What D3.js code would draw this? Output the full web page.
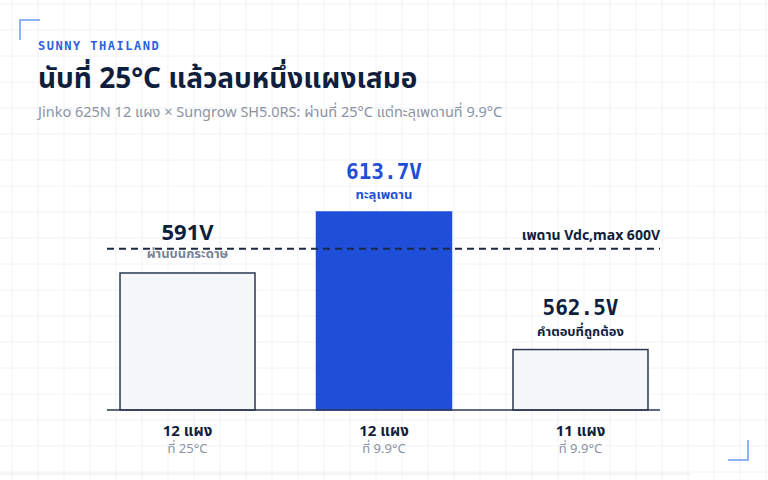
<!DOCTYPE html><html><head><meta charset="utf-8"><script src="https://cdn.jsdelivr.net/npm/d3@7"></script>
<style>body{margin:0;background:#fff}svg{display:block}</style></head><body><svg id="c" width="768" height="480"></svg>
<script>
const categories=["12 แผง","12 แผง","11 แผง"];
const subLabels=["ที่ 25°C","ที่ 9.9°C","ที่ 9.9°C"];
const values=[591,613.7,562.5];
const valueLabels=["591V","613.7V","562.5V"];
const noteLabels=["ผ่านบนกระดาษ","ทะลุเพดาน","คำตอบที่ถูกต้อง"];
const limit=600;
const limitLabel="เพดาน Vdc,max 600V";
const F="'Noto Sans','Noto Sans Thai',sans-serif";
const svg=d3.select("#c");
const g0=svg.append("g");
for(let x=12;x<768;x+=26)g0.append("line").attr("x1",x).attr("x2",x).attr("y1",0).attr("y2",480).attr("stroke","#f1f2f5");
for(let y=4;y<480;y+=26)g0.append("line").attr("x1",0).attr("x2",768).attr("y1",y).attr("y2",y).attr("stroke","#f1f2f5");
svg.append("path").attr("d","M20,40V20H40").attr("fill","none").attr("stroke","#6f9cf5").attr("stroke-width",1.5);
svg.append("path").attr("d","M728,460H748V440").attr("fill","none").attr("stroke","#6f9cf5").attr("stroke-width",1.5);
svg.append("line").attr("x1",0).attr("x2",690).attr("y1",474).attr("y2",474).attr("stroke","#e6e8ec");
svg.append("text").attr("x",38).attr("y",50).text("SUNNY THAILAND").attr("font-family","'DejaVu Sans Mono',monospace").attr("font-size",12).attr("font-weight","bold").attr("letter-spacing",1.5).attr("fill","#2f5fe0");
svg.append("text").attr("x",38).attr("y",88).text("นับที่ 25°C แล้วลบหนึ่งแผงเสมอ").attr("font-family",F).attr("font-size",28).attr("font-weight","bold").attr("fill","#0f1e3d");
svg.append("text").attr("x",38).attr("y",117).text("Jinko 625N 12 แผง × Sungrow SH5.0RS: ผ่านที่ 25°C แต่ทะลุเพดานที่ 9.9°C").attr("font-family",F).attr("font-size",14.5).attr("fill","#8b93a3");
const x=d3.scaleBand().domain(d3.range(3)).range([92.5,675.5]).paddingInner(0.313).paddingOuter(0.14);
const y=d3.scaleLinear().domain([540,613.7]).range([410,212]);
values.forEach((v,i)=>{
  const hot=i===1;
  svg.append("rect").attr("x",x(i)).attr("y",y(v)).attr("width",x.bandwidth()).attr("height",410-y(v))
   .attr("fill",hot?"#1f4fd8":"#f6f7f9").attr("stroke",hot?"#1f4fd8":"#2b3852").attr("stroke-width",1.5);
});
svg.append("line").attr("x1",107).attr("x2",660).attr("y1",410).attr("y2",410).attr("stroke","#2b3852").attr("stroke-width",1.5);
svg.append("line").attr("x1",107).attr("x2",660).attr("y1",y(limit)).attr("y2",y(limit)).attr("stroke","#1b2844").attr("stroke-width",2).attr("stroke-dasharray","7,5");
svg.append("text").attr("x",660).attr("y",y(limit)-9).attr("text-anchor","end").text(limitLabel).attr("font-family",F).attr("font-size",14).attr("font-weight","bold").attr("fill","#0f1e3d");
const vy=[240,179,315],ny=[258,199,336];
values.forEach((v,i)=>{
  const cx=x(i)+x.bandwidth()/2;
  svg.append("text").attr("x",cx).attr("y",vy[i]).attr("text-anchor","middle").text(valueLabels[i])
   .attr("font-family",i===0?F:"'DejaVu Sans Mono',monospace").attr("font-size",i===0?22:21).attr("font-weight","bold").attr("fill",i===1?"#1f4fd8":"#0f1e3d");
  svg.append("text").attr("x",cx).attr("y",ny[i]).attr("text-anchor","middle").text(noteLabels[i])
   .attr("font-family",F).attr("font-size",13).attr("font-weight","bold").attr("fill",i===1?"#1f4fd8":(i===0?"#7b8394":"#0f1e3d"));
  svg.append("text").attr("x",cx).attr("y",436).attr("text-anchor","middle").text(categories[i]).attr("font-family",F).attr("font-size",15).attr("font-weight","bold").attr("fill","#0f1e3d");
  svg.append("text").attr("x",cx).attr("y",453).attr("text-anchor","middle").text(subLabels[i]).attr("font-family",F).attr("font-size",13).attr("fill","#8b93a3");
});
</script></body></html>
